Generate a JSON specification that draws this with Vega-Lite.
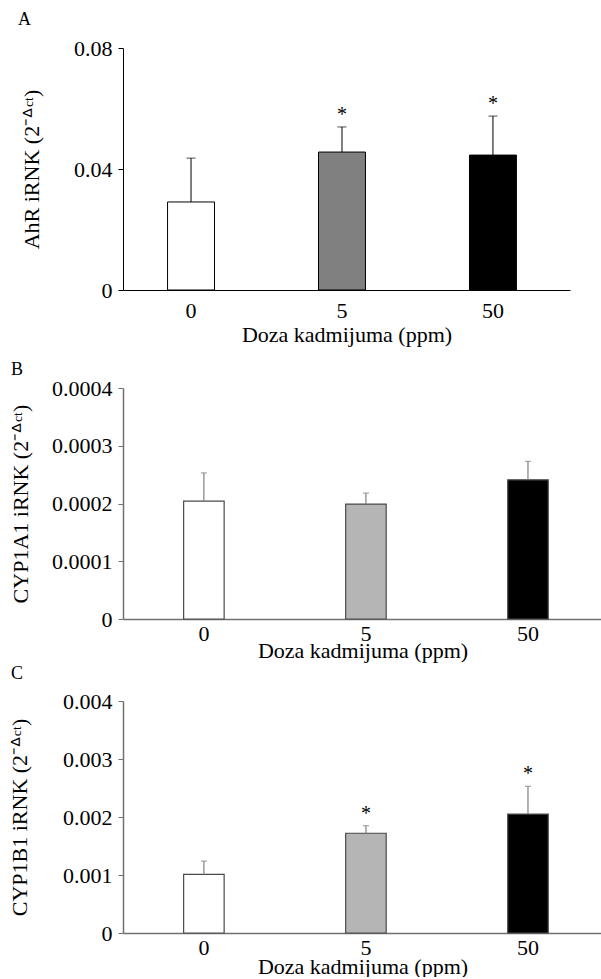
{
  "$schema": "https://vega.github.io/schema/vega-lite/v6.json",
  "padding": {"left": 8, "top": 11, "right": 0, "bottom": 0},
  "background": "white",
  "spacing": 16,
  "config": {
    "font": "Liberation Serif",
    "view": {"stroke": null},
    "axis": {"labelFont": "Liberation Serif", "titleFont": "Liberation Serif", "labelFontSize": 22, "titleFontSize": 22, "titleFontWeight": "normal", "labelColor": "black", "titleColor": "black", "grid": false},
    "title": {"font": "Liberation Serif", "fontSize": 18, "fontWeight": "normal", "anchor": "start", "frame": "group", "baseline": "alphabetic", "color": "black"}
  },
  "datasets": {
    "A": [
      {"dose": "0", "mean": 0.0291, "upper": 0.0436, "sig": ""},
      {"dose": "5", "mean": 0.0456, "upper": 0.0539, "sig": "*"},
      {"dose": "50", "mean": 0.0446, "upper": 0.0575, "sig": "*"}
    ],
    "B": [
      {"dose": "0", "mean": 0.000204, "upper": 0.000253, "sig": ""},
      {"dose": "5", "mean": 0.000199, "upper": 0.000218, "sig": ""},
      {"dose": "50", "mean": 0.000241, "upper": 0.000273, "sig": ""}
    ],
    "C": [
      {"dose": "0", "mean": 0.00101, "upper": 0.00124, "sig": ""},
      {"dose": "5", "mean": 0.00172, "upper": 0.00185, "sig": "*"},
      {"dose": "50", "mean": 0.00205, "upper": 0.00253, "sig": "*"}
    ]
  },
  "vconcat": [
    {
      "title": {"text": "A", "dx": -105, "offset": 8},
      "width": 447,
      "height": 242,
      "data": {"name": "A"},
      "encoding": {
        "x": {"field": "dose", "type": "ordinal", "sort": ["0", "5", "50"],
              "scale": {"paddingInner": 0.689, "paddingOuter": 0.325, "align": 0.454},
              "axis": {"title": "Doza kadmijuma (ppm)", "labelAngle": 0, "ticks": false, "labelPadding": 10, "titlePadding": 3, "domainColor": "black", "domainWidth": 1}}
      },
      "layer": [
        {"mark": {"type": "bar", "stroke": "black", "strokeWidth": 1},
         "encoding": {
           "y": {"field": "mean", "type": "quantitative", "scale": {"domain": [0, 0.08], "nice": false},
                 "axis": {"title": "AhR iRNK (2⁻ᐞᶜᵗ)", "values": [0, 0.04, 0.08], "format": ".2~f", "tickSize": 5, "labelPadding": 6, "titlePadding": 30, "domainColor": "black", "tickColor": "black"}},
           "fill": {"field": "dose", "type": "ordinal", "scale": {"domain": ["0", "5", "50"], "range": ["white", "#808080", "black"]}, "legend": null}
         }},
        {"mark": {"type": "rule", "color": "black", "strokeWidth": 1},
         "encoding": {"y": {"field": "mean", "type": "quantitative"}, "y2": {"field": "upper"}}},
        {"mark": {"type": "tick", "color": "black", "thickness": 1, "size": 9},
         "encoding": {"y": {"field": "upper", "type": "quantitative"}}},
        {"transform": [{"filter": "datum.sig != ''"}],
         "mark": {"type": "text", "fontSize": 20, "baseline": "middle", "dy": -12, "color": "black"},
         "encoding": {"y": {"field": "upper", "type": "quantitative"}, "text": {"field": "sig"}}}
      ]
    },
    {
      "spacing": 4,
      "vconcat": [
        {
          "title": {"text": "B", "dx": -112, "offset": -2},
          "width": 479,
          "height": 231,
          "data": {"name": "B"},
          "encoding": {
            "x": {"field": "dose", "type": "ordinal", "sort": ["0", "5", "50"],
                  "scale": {"paddingInner": 0.75, "paddingOuter": 0.353, "align": 0.53},
                  "axis": {"title": "Doza kadmijuma (ppm)", "labelAngle": 0, "ticks": false, "labelPadding": 4, "titlePadding": -4, "domainColor": "#707070", "domainWidth": 1.5}}
          },
          "layer": [
            {"mark": {"type": "bar", "stroke": "#4a4a4a", "strokeWidth": 1.2},
             "encoding": {
               "y": {"field": "mean", "type": "quantitative", "scale": {"domain": [0, 0.0004], "nice": false},
                     "axis": {"title": "CYP1A1 iRNK (2⁻ᐞᶜᵗ)", "values": [0, 0.0001, 0.0002, 0.0003, 0.0004], "format": ".4~f", "tickSize": 5, "labelPadding": 6, "titlePadding": 19, "domainColor": "#707070", "tickColor": "#707070", "domainWidth": 1.5}},
               "fill": {"field": "dose", "type": "ordinal", "scale": {"domain": ["0", "5", "50"], "range": ["white", "#b5b5b5", "black"]}, "legend": null}
             }},
            {"mark": {"type": "rule", "color": "#808080", "strokeWidth": 1.2},
             "encoding": {"y": {"field": "mean", "type": "quantitative"}, "y2": {"field": "upper"}}},
            {"mark": {"type": "tick", "color": "#808080", "thickness": 1.2, "size": 6},
             "encoding": {"y": {"field": "upper", "type": "quantitative"}}}
          ]
        },
        {
          "title": {"text": "C", "dx": -112, "offset": 7},
          "width": 479,
          "height": 232,
          "data": {"name": "C"},
          "encoding": {
            "x": {"field": "dose", "type": "ordinal", "sort": ["0", "5", "50"],
                  "scale": {"paddingInner": 0.75, "paddingOuter": 0.353, "align": 0.53},
                  "axis": {"title": "Doza kadmijuma (ppm)", "labelAngle": 0, "ticks": false, "labelPadding": 4, "titlePadding": -2, "domainColor": "#707070", "domainWidth": 1.5}}
          },
          "layer": [
            {"mark": {"type": "bar", "stroke": "#4a4a4a", "strokeWidth": 1.2},
             "encoding": {
               "y": {"field": "mean", "type": "quantitative", "scale": {"domain": [0, 0.004], "nice": false},
                     "axis": {"title": "CYP1B1 iRNK (2⁻ᐞᶜᵗ)", "values": [0, 0.001, 0.002, 0.003, 0.004], "format": ".3~f", "tickSize": 5, "labelPadding": 6, "titlePadding": 31, "domainColor": "#707070", "tickColor": "#707070", "domainWidth": 1.5}},
               "fill": {"field": "dose", "type": "ordinal", "scale": {"domain": ["0", "5", "50"], "range": ["white", "#b5b5b5", "black"]}, "legend": null}
             }},
            {"mark": {"type": "rule", "color": "#808080", "strokeWidth": 1.2},
             "encoding": {"y": {"field": "mean", "type": "quantitative"}, "y2": {"field": "upper"}}},
            {"mark": {"type": "tick", "color": "#808080", "thickness": 1.2, "size": 6},
             "encoding": {"y": {"field": "upper", "type": "quantitative"}}},
            {"transform": [{"filter": "datum.sig != ''"}],
             "mark": {"type": "text", "fontSize": 20, "baseline": "middle", "dy": -12, "color": "black"},
             "encoding": {"y": {"field": "upper", "type": "quantitative"}, "text": {"field": "sig"}}}
          ]
        }
      ]
    }
  ],
  "resolve": {"scale": {"fill": "independent"}}
}
